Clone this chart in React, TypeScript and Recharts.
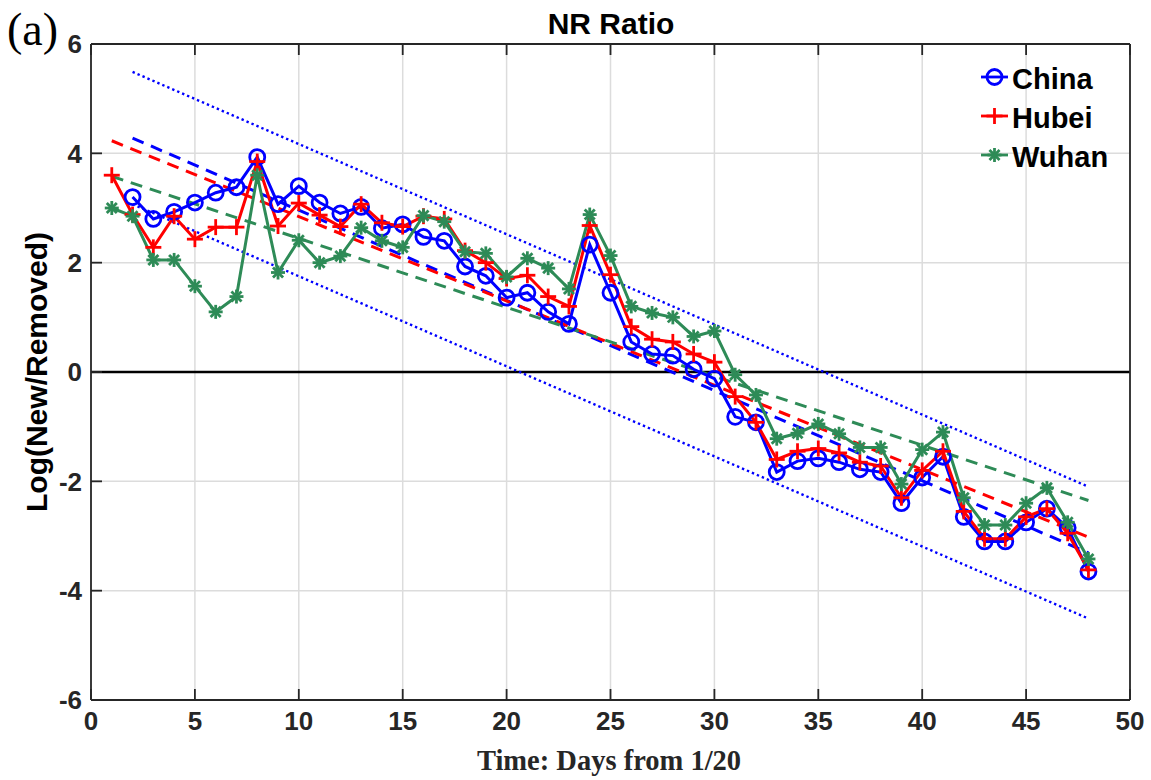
import { LineChart, Line, XAxis, YAxis, CartesianGrid, ReferenceLine, Legend } from "recharts";

// days from 1/20
const days = [1, 2, 3, 4, 5, 6, 7, 8, 9, 10, 11, 12, 13, 14, 15, 16, 17, 18, 19, 20, 21, 22, 23, 24, 25, 26, 27, 28, 29, 30, 31, 32, 33, 34, 35, 36, 37, 38, 39, 40, 41, 42, 43, 44, 45, 46, 47, 48];

const china = [null, 3.2, 2.8, 2.93, 3.1, 3.28, 3.38, 3.93, 3.07, 3.4, 3.1, 2.9, 3.02, 2.63, 2.7, 2.47, 2.4, 1.93, 1.76, 1.36, 1.45, 1.1, 0.88, 2.33, 1.45, 0.55, 0.33, 0.3, 0.05, -0.12, -0.82, -0.92, -1.83, -1.63, -1.58, -1.65, -1.78, -1.83, -2.4, -1.93, -1.55, -2.65, -3.1, -3.1, -2.75, -2.5, -2.85, -3.65];
const hubei = [3.6, 2.88, 2.28, 2.85, 2.43, 2.65, 2.65, 3.85, 2.67, 3.09, 2.87, 2.66, 3.07, 2.73, 2.66, 2.85, 2.8, 2.22, 2.0, 1.71, 1.77, 1.38, 1.2, 2.68, 1.78, 0.83, 0.6, 0.55, 0.33, 0.18, -0.45, -0.92, -1.6, -1.45, -1.4, -1.48, -1.65, -1.72, -2.3, -1.8, -1.45, -2.55, -3.05, -3.05, -2.65, -2.5, -2.95, -3.62];
const wuhan = [3.0, 2.85, 2.05, 2.05, 1.57, 1.1, 1.38, 3.6, 1.82, 2.41, 2.0, 2.12, 2.64, 2.4, 2.28, 2.86, 2.75, 2.2, 2.17, 1.74, 2.08, 1.9, 1.52, 2.88, 2.13, 1.2, 1.08, 1.0, 0.65, 0.75, -0.05, -0.42, -1.22, -1.12, -0.95, -1.13, -1.38, -1.38, -2.05, -1.42, -1.1, -2.3, -2.8, -2.8, -2.4, -2.12, -2.75, -3.42];

// fitted trend lines (end points) and band
const chinaFitDays = [2, 48];
const chinaFit = [4.28, -3.31];
const hubeiFitDays = [1, 48];
const hubeiFit = [4.23, -3.02];
const wuhanFitDays = [1, 48];
const wuhanFit = [3.58, -2.35];
const bandDays = [2, 48];
const bandUpper = [5.49, -2.1];
const bandLower = [3.07, -4.51];

const xTicks = [0, 5, 10, 15, 20, 25, 30, 35, 40, 45, 50];
const yTicks = [-6, -4, -2, 0, 2, 4, 6];

const legendNames = ["China", "Hubei", "Wuhan"];

const BLUE = "#0000ff";
const RED = "#ff0000";
const GREEN = "#2e8b57";
const AXIS = "#262626";
const SANS = "'Liberation Sans', Arial, Helvetica, sans-serif";
const SERIF = "'Liberation Serif', 'Times New Roman', serif";
const TICK_LEN = 11;
const GAP = 9;

const rows = days.map((d, i) => ({ day: d, china: china[i], hubei: hubei[i], wuhan: wuhan[i] }));
const pts = (xs: number[], ys: number[]) => xs.map((d, i) => ({ day: d, y: ys[i] }));

function Marker({ kind, cx, cy }: { kind: number; cx: number; cy: number }) {
  if (kind === 0) return <circle cx={cx} cy={cy} r={7.5} fill="none" stroke={BLUE} strokeWidth={2.8} />;
  if (kind === 1) {
    const h = 8;
    return (
      <g stroke={RED} strokeWidth={2.8}>
        <line x1={cx - h} x2={cx + h} y1={cy} y2={cy} />
        <line x1={cx} x2={cx} y1={cy - h} y2={cy + h} />
      </g>
    );
  }
  const r = 7;
  const d = r * 0.72;
  return (
    <g stroke={GREEN} strokeWidth={2.8}>
      <line x1={cx - r} x2={cx + r} y1={cy} y2={cy} />
      <line x1={cx} x2={cx} y1={cy - r} y2={cy + r} />
      <line x1={cx - d} x2={cx + d} y1={cy - d} y2={cy + d} />
      <line x1={cx - d} x2={cx + d} y1={cy + d} y2={cy - d} />
    </g>
  );
}

const dotFor = (kind: number) => (p: any) => {
  const { cx, cy, index } = p;
  if (cy == null || Number.isNaN(cy)) return <g key={`m${kind}-${index}`} />;
  return <Marker key={`m${kind}-${index}`} kind={kind} cx={cx} cy={cy} />;
};

const labelFont = { fill: AXIS, fontSize: 26, fontWeight: 700, fontFamily: SANS };

// MATLAB-style ticks pointing into the plot box
function BottomTick({ x, y, payload }: any) {
  return (
    <g>
      <line x1={x} x2={x} y1={y - GAP} y2={y - GAP - TICK_LEN} stroke={AXIS} strokeWidth={1.8} />
      <text x={x} y={y} dy="0.8em" textAnchor="middle" {...labelFont}>{payload.value}</text>
    </g>
  );
}
function TopTick({ x, y }: any) {
  return <line x1={x} x2={x} y1={y} y2={y + TICK_LEN} stroke={AXIS} strokeWidth={1.8} />;
}
function LeftTick({ x, y, payload }: any) {
  return (
    <g>
      <line x1={x + GAP} x2={x + GAP + TICK_LEN} y1={y} y2={y} stroke={AXIS} strokeWidth={1.8} />
      <text x={x} y={y} dy="0.36em" textAnchor="end" {...labelFont}>{payload.value}</text>
    </g>
  );
}
function RightTick({ x, y }: any) {
  return <line x1={x} x2={x - TICK_LEN} y1={y} y2={y} stroke={AXIS} strokeWidth={1.8} />;
}

function LegendBox() {
  const colors = [BLUE, RED, GREEN];
  return (
    <svg width={175} height={125}>
      {legendNames.map((n, i) => {
        const y = 20 + 39 * i;
        return (
          <g key={n}>
            <line x1={6} x2={33} y1={y} y2={y} stroke={colors[i]} strokeWidth={2.8} />
            <Marker kind={i} cx={19.5} cy={y} />
            <text x={37} y={y + 12} fontSize={29} fontWeight={700} fontFamily={SANS} fill="#000">
              {n}
            </text>
          </g>
        );
      })}
    </svg>
  );
}

export default function App() {
  const axisLine = { stroke: AXIS, strokeWidth: 1.8 };
  return (
    <div style={{ position: "absolute", left: 0, top: 0, width: 1151, height: 780, background: "#fff" }}>
      <LineChart width={1151} height={780} data={rows} margin={{ top: 43, right: 20, bottom: 0, left: 0 }}>
        <CartesianGrid stroke="#dcdcdc" strokeWidth={1.5} />
        <XAxis type="number" dataKey="day" domain={[0, 50]} ticks={xTicks} interval={0} allowDataOverflow height={80} tickSize={0} tickMargin={GAP} axisLine={axisLine} tickLine={false} tick={<BottomTick />} />
        <XAxis xAxisId="top" orientation="top" type="number" dataKey="day" domain={[0, 50]} ticks={xTicks} interval={0} height={1} tickSize={0} tickMargin={0} axisLine={axisLine} tickLine={false} tick={<TopTick />} />
        <YAxis type="number" domain={[-6, 6]} ticks={yTicks} interval={0} allowDataOverflow width={91} tickSize={0} tickMargin={GAP} axisLine={axisLine} tickLine={false} tick={<LeftTick />} />
        <YAxis yAxisId="right" orientation="right" type="number" domain={[-6, 6]} ticks={yTicks} interval={0} width={1} tickSize={0} tickMargin={0} axisLine={axisLine} tickLine={false} tick={<RightTick />} />
        <ReferenceLine y={0} stroke="#000" strokeWidth={2.5} />

        <Line data={pts(bandDays, bandUpper)} dataKey="y" stroke={BLUE} strokeWidth={2.4} strokeDasharray="2.4 3" dot={false} activeDot={false} isAnimationActive={false} legendType="none" />
        <Line data={pts(bandDays, bandLower)} dataKey="y" stroke={BLUE} strokeWidth={2.4} strokeDasharray="2.4 3" dot={false} activeDot={false} isAnimationActive={false} legendType="none" />
        <Line data={pts(chinaFitDays, chinaFit)} dataKey="y" stroke={BLUE} strokeWidth={3} strokeDasharray="12 8" dot={false} activeDot={false} isAnimationActive={false} legendType="none" />
        <Line data={pts(hubeiFitDays, hubeiFit)} dataKey="y" stroke={RED} strokeWidth={3} strokeDasharray="12 8" dot={false} activeDot={false} isAnimationActive={false} legendType="none" />
        <Line data={pts(wuhanFitDays, wuhanFit)} dataKey="y" stroke={GREEN} strokeWidth={3} strokeDasharray="12 8" dot={false} activeDot={false} isAnimationActive={false} legendType="none" />

        <Line dataKey="china" name="China" stroke={BLUE} strokeWidth={3} dot={dotFor(0)} activeDot={false} isAnimationActive={false} />
        <Line dataKey="hubei" name="Hubei" stroke={RED} strokeWidth={3} dot={dotFor(1)} activeDot={false} isAnimationActive={false} />
        <Line dataKey="wuhan" name="Wuhan" stroke={GREEN} strokeWidth={3} dot={dotFor(2)} activeDot={false} isAnimationActive={false} />

        <Legend layout="vertical" align="center" verticalAlign="middle" content={<LegendBox />} wrapperStyle={{ left: 975, top: 57, width: 175, height: 125 }} />
      </LineChart>

      <svg width={1151} height={780} style={{ position: "absolute", left: 0, top: 0, pointerEvents: "none" }}>
        <text x={7} y={45} fontSize={46} fontFamily={SERIF} fill="#000">(a)</text>
        <text x={611} y={34} textAnchor="middle" fontSize={30} fontWeight={700} fontFamily={SANS} fill="#000">NR Ratio</text>
        <text x={609} y={770} textAnchor="middle" fontSize={28.5} fontWeight={700} fontFamily={SERIF} fill={AXIS}>Time: Days from 1/20</text>
        <text x={47} y={372} transform="rotate(-90 47 372)" textAnchor="middle" fontSize={30} fontWeight={700} fontFamily={SANS} fill="#000">Log(New/Removed)</text>
      </svg>
    </div>
  );
}
